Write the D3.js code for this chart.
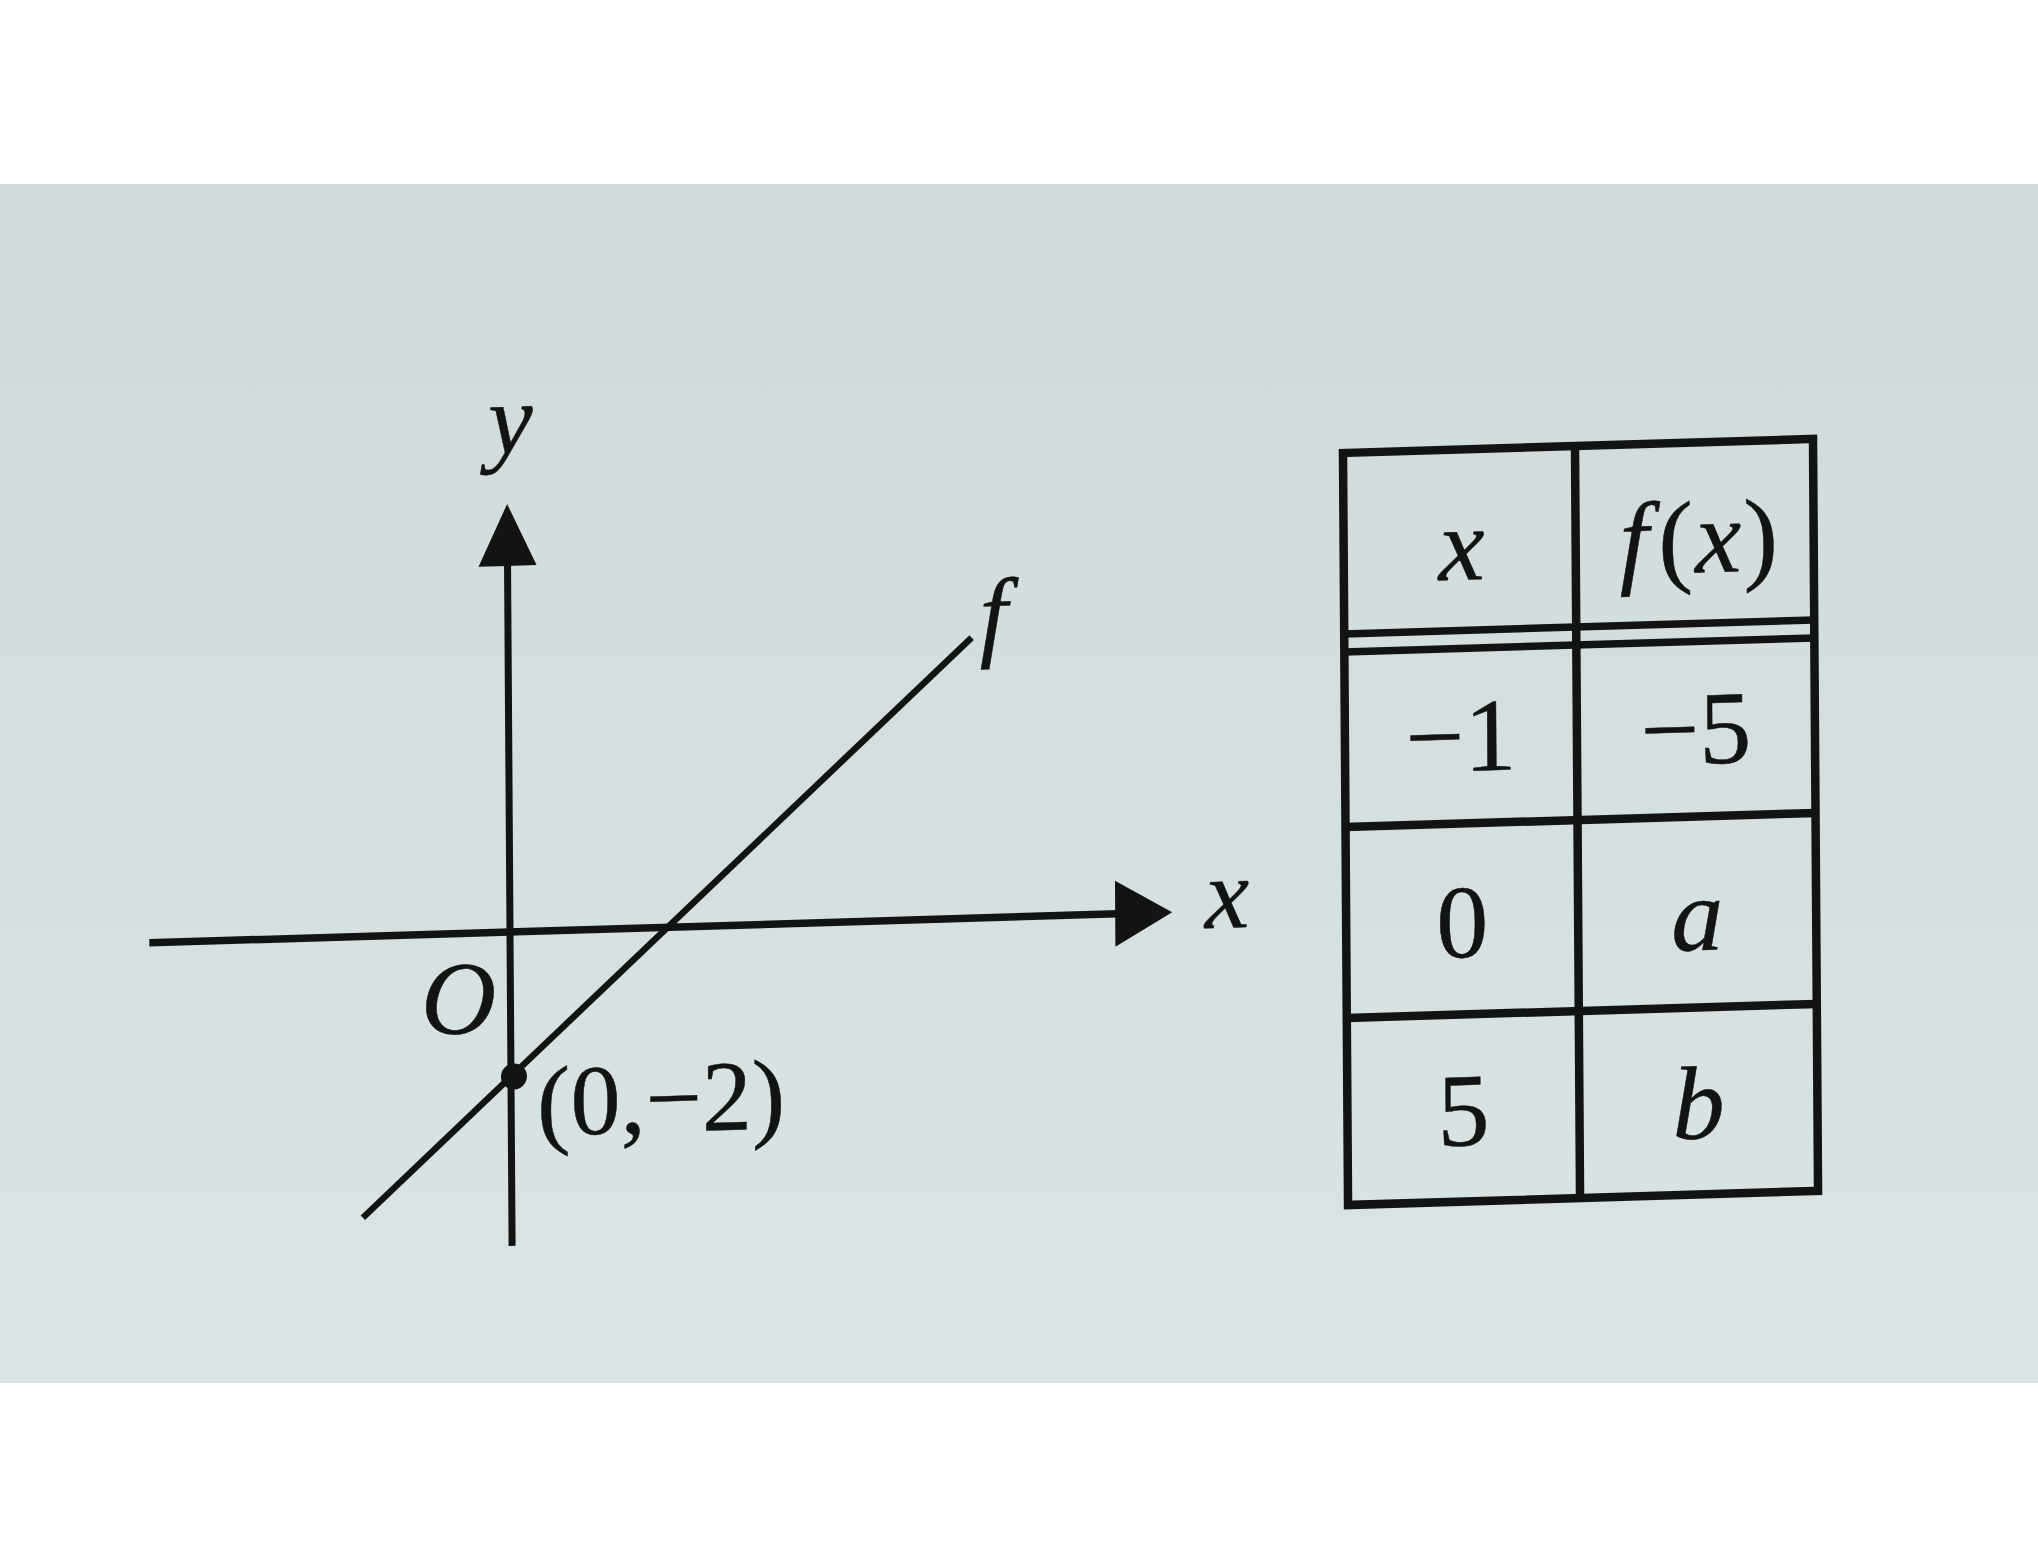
<!DOCTYPE html>
<html><head><meta charset="utf-8">
<script src="https://cdn.jsdelivr.net/npm/d3@7"></script>
<style>html,body{margin:0;padding:0;background:#fff;} svg{display:block}</style>
</head><body>
<svg id="c" width="2038" height="1567"></svg>
<script>
// ---- data ----
const tableHeaders = ["x", "f(x)"];
const xColumn = ["\u22121", "0", "5"];
const fColumn = ["\u22125", "a", "b"];
const lineX = [-0.63, 1.96];          // ends of the drawn segment of f
const lineY = [-3.89, 3.88];
const markedPoint = [0, -2];
const markedLabel = "(0,\u22122)";
const xAxisExtent = [-1.525, 2.8];
const yAxisExtent = [-4.34, 5.92];
const axisNames = ["x", "y"];
const originLabel = "O";
const curveLabel = "f";

// ---- layout ----
const W = 2038, H = 1567;
const ink = "#121414";
const serif = "'Liberation Serif','Times New Roman',serif";
const textStroke = 0.5;
const skew = (tx, ty) => `matrix(1,-0.03,0.0067,1,${tx},${ty})`;

const svg = d3.select("#c");
const defs = svg.append("defs");
const grad = defs.append("linearGradient").attr("id", "paper").attr("x1", 0).attr("y1", 0).attr("x2", 0).attr("y2", 1);
grad.append("stop").attr("offset", "0%").attr("stop-color", "#d0dada");
grad.append("stop").attr("offset", "100%").attr("stop-color", "#dbe4e4");
svg.append("rect").attr("x", 0).attr("y", 184).attr("width", W).attr("height", 1199).attr("fill", "url(#paper)");

// ---- chart ----
const g = svg.append("g").attr("transform", skew(510, 932));
const xs = d3.scaleLinear().domain([0, 1]).range([0, 236.5]);
const ys = d3.scaleLinear().domain([0, 1]).range([0, -72.3]);

const xTip = xs(xAxisExtent[1]), yTip = ys(yAxisExtent[1]);
const xArrowLen = 57, xArrowHalf = 33, yArrowLen = 62, yArrowHalf = 29;

g.append("line").attr("x1", xs(xAxisExtent[0])).attr("y1", ys(0)).attr("x2", xTip - xArrowLen + 2).attr("y2", ys(0))
  .attr("stroke", ink).attr("stroke-width", 7.5);
g.append("path").attr("d", `M${xTip},${ys(0)} L${xTip - xArrowLen},${ys(0) - xArrowHalf} L${xTip - xArrowLen},${ys(0) + xArrowHalf} Z`).attr("fill", ink);

g.append("line").attr("x1", xs(0)).attr("y1", ys(yAxisExtent[0])).attr("x2", xs(0)).attr("y2", yTip + yArrowLen - 2)
  .attr("stroke", ink).attr("stroke-width", 7);
g.append("path").attr("d", `M${xs(0)},${yTip} L${xs(0) - yArrowHalf},${yTip + yArrowLen} L${xs(0) + yArrowHalf},${yTip + yArrowLen} Z`).attr("fill", ink);

const pts = lineX.map((x, i) => [x, lineY[i]]);
g.append("path").attr("d", d3.line().x(d => xs(d[0])).y(d => ys(d[1]))(pts))
  .attr("fill", "none").attr("stroke", ink).attr("stroke-width", 6.5);

g.append("circle").attr("cx", xs(markedPoint[0]) + 3).attr("cy", ys(markedPoint[1])).attr("r", 13).attr("fill", ink);

const lab = (x, y, t, style, anchor, size) => g.append("text").attr("x", x).attr("y", y).text(t)
  .attr("font-family", serif).attr("font-style", style).attr("font-size", size)
  .attr("text-anchor", anchor).attr("fill", ink).attr("stroke", ink).attr("stroke-width", textStroke);

lab(xTip + 55, ys(0) + 17, axisNames[0], "italic", "middle", 100);
lab(xs(0) + 4, yTip - 51, axisNames[1], "italic", "middle", 100);
lab(xs(0) - 52, ys(0) + 100, originLabel, "italic", "middle", 104);
lab(xs(markedPoint[0]) + 26, ys(markedPoint[1]) + 60, markedLabel, "normal", "start", 100);
lab(xs(lineX[1]) + 8, ys(lineY[1]) + 11, curveLabel, "italic", "start", 100);

// ---- table ----
const t = svg.append("g").attr("transform", skew(1343, 453));
const colEdges = [0, 232, 470];
const headTop = 0, dbl1 = 181, dbl2 = 199;
const rowEdges = [199, 374, 565, 752];
const sw = 8.5;

t.append("rect").attr("x", 0).attr("y", 0).attr("width", colEdges[2]).attr("height", rowEdges[3])
  .attr("fill", "none").attr("stroke", ink).attr("stroke-width", sw);
t.append("line").attr("x1", colEdges[1]).attr("x2", colEdges[1]).attr("y1", 0).attr("y2", rowEdges[3]).attr("stroke", ink).attr("stroke-width", sw);
[dbl1, dbl2].forEach(y => t.append("line").attr("x1", 0).attr("x2", colEdges[2]).attr("y1", y).attr("y2", y).attr("stroke", ink).attr("stroke-width", 7.5));
rowEdges.slice(1, 3).forEach(y => t.append("line").attr("x1", 0).attr("x2", colEdges[2]).attr("y1", y).attr("y2", y).attr("stroke", ink).attr("stroke-width", sw));

const colC = [(colEdges[0] + colEdges[1]) / 2, (colEdges[1] + colEdges[2]) / 2];
const cellText = (x, y, s, italic) => t.append("text").attr("x", x).attr("y", y).text(s)
  .attr("font-family", serif).attr("font-style", italic ? "italic" : "normal")
  .attr("font-size", 104).attr("text-anchor", "middle").attr("fill", ink)
  .attr("stroke", ink).attr("stroke-width", textStroke);

// header
const hb = headTop + 0.72 * (dbl1 - headTop);
cellText(colC[0] + 2, hb, tableHeaders[0], true);
const fh = t.append("text").attr("x", colC[1] + 4).attr("y", hb).attr("font-family", serif).attr("font-size", 104)
  .attr("text-anchor", "middle").attr("fill", ink).attr("stroke", ink).attr("stroke-width", textStroke);
const m = tableHeaders[1].match(/^(.)(\()(.)(\))$/);
fh.append("tspan").attr("font-style", "italic").text(m[1]);
fh.append("tspan").attr("dx", 10).text(m[2]);
fh.append("tspan").attr("font-style", "italic").attr("dx", 2).text(m[3]);
fh.append("tspan").attr("dx", 2).text(m[4]);

xColumn.forEach((v, i) => {
  const top = rowEdges[i], bot = rowEdges[i + 1];
  const b = top + 0.70 * (bot - top);
  cellText(colC[0], b, v, false);
  cellText(colC[1], b, fColumn[i], /^[a-z]$/.test(fColumn[i]));
});
</script>
</body></html>
